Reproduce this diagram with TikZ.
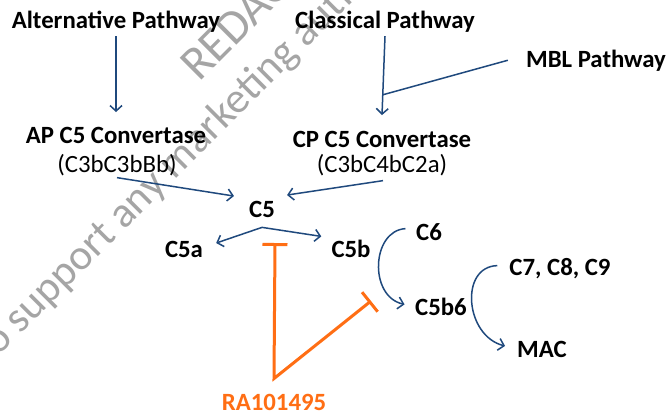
\documentclass[tikz,border=0pt]{standalone}
\usepackage{fontspec}
\setmainfont{Carlito}
\usetikzlibrary{arrows.meta,calc}
\definecolor{arrowblue}{RGB}{31,73,125}
\definecolor{inhorange}{RGB}{255,110,20}
\definecolor{wmgray}{RGB}{165,165,165}
\begin{document}
\begin{tikzpicture}[x=1pt,y=-1pt,
  lbl/.style={font=\fontsize{24.8}{28}\selectfont\bfseries, anchor=base, inner sep=2pt},
  sublbl/.style={font=\fontsize{24.8}{28}\selectfont, anchor=base, inner sep=2pt},
  wm/.style={text=wmgray, inner sep=0pt, rotate=45, anchor=base west},
  flow/.style={draw=arrowblue, line width=1.5pt, -{Straight Barb[length=5.5pt,width=12pt]}},
  link/.style={draw=arrowblue, line width=1.5pt},
  inhib/.style={draw=inhorange, line width=3pt, {Bar[width=25pt]}-{Bar[width=25pt]}}
]
\useasboundingbox (0,0) rectangle (666,413);
\clip (0,0) rectangle (666,413);
\fill[white] (0,0) rectangle (666,413);

% watermark
\node[wm, font=\fontsize{48}{50}\selectfont] (wm1) at (199,83) {REDACTED};
\node[wm, font=\fontsize{43}{45}\selectfont] (wm2) at (-12,367) {to support any marketing authorization};

% nodes
\node[lbl] (alt) at (116,28) {Alternative Pathway};
\node[lbl] (cl) at (385,28) {Classical Pathway};
\node[lbl] (mbl) at (596,67) {MBL Pathway};
\node[lbl] (ap) at (116,143) {AP C5 Convertase};
\node[sublbl] (apf) at (117,172) {(C3bC3bBb)};
\node[lbl] (cp) at (382,147) {CP C5 Convertase};
\node[sublbl] (cpf) at (382,172) {(C3bC4bC2a)};
\node[lbl] (c5) at (262,217) {C5};
\node[lbl] (c5a) at (184,257) {C5a};
\node[lbl] (c5b) at (351,257) {C5b};
\node[lbl] (c6) at (429,240) {C6};
\node[lbl] (c789) at (560,275) {C7, C8, C9};
\node[lbl] (c5b6) at (441,315) {C5b6};
\node[lbl] (mac) at (542,357) {MAC};
\node[lbl, text=inhorange] (ra) at (274,410) {RA101495};

% connectors
\draw[flow] ($(alt.south)+(0,2)$) -- ($(ap.north)+(0,-12.5)$);
\coordinate (cptip) at ($(cp.north)+(0,-13.5)$);
\draw[flow] ($(cl.south)+(0,2)$) -- (cptip);
\coordinate (join) at ($(cl.south)!0.75!(cptip)$);
\draw[link] ($(mbl.west)+(-16,0)$) -- (join);
\draw[flow] (apf.south) -- ($(c5.north west)+(-13,-2.5)$);
\draw[flow] ($(cpf.south)+(1,3)$) -- ($(c5.north east)+(10,-3.5)$);
\coordinate (split) at ($(c5.south)+(0,8)$);
\draw[flow] (split) -- ($(c5a.north east)+(11,4.5)$);
\draw[flow] (split) -- ($(c5b.north west)+(-8,-1)$);
\draw[flow] ($(c6.west)+(-8.5,-3)$) .. controls +(-34,2) and +(-36,-8) .. ($(c5b6.west)+(-8.5,-2)$);
\draw[flow] ($(c789.west)+(-10,-2.5)$) .. controls +(-38,1) and +(-40,-10) .. ($(mac.west)+(-10,-3)$);

% inhibition
\coordinate (blockA) at (275,243);
\coordinate (blockB) at (371,301);
\coordinate (vtx) at ($(ra.north)+(0,-13)$);
\draw[inhib] (blockA) -- (vtx) -- (blockB);
\end{tikzpicture}
\end{document}
